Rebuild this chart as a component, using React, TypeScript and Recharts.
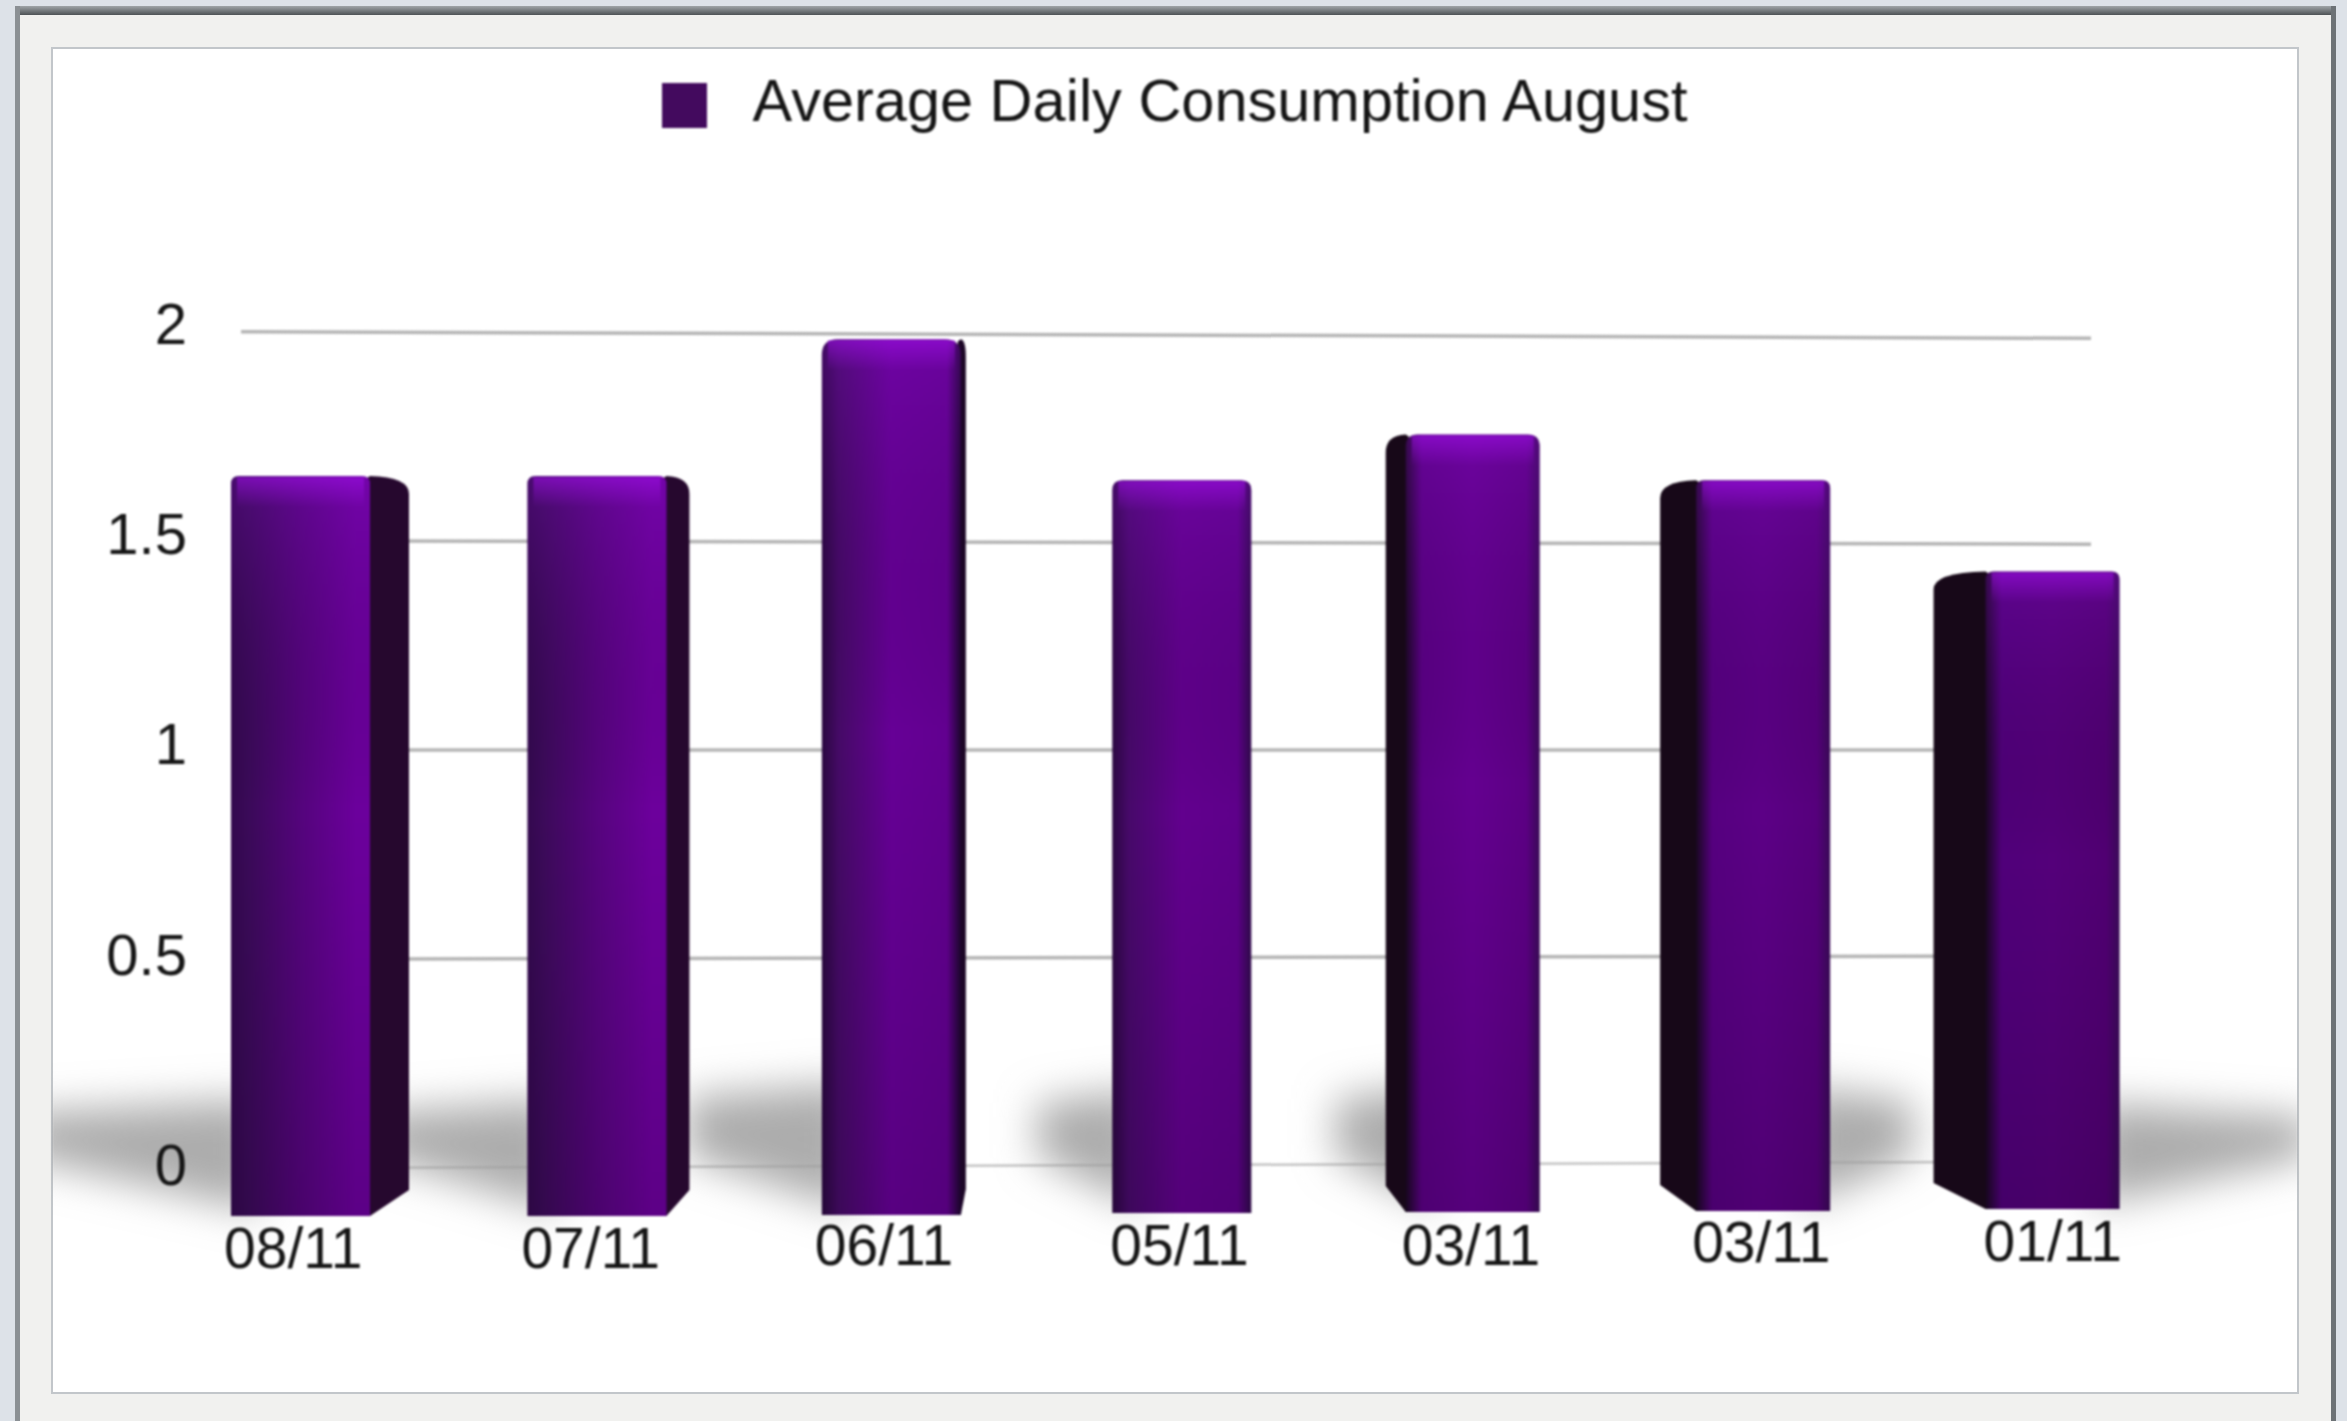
import { BarChart, Bar, XAxis, YAxis, CartesianGrid, Legend } from "recharts";

const categories = ["08/11", "07/11", "06/11", "05/11", "03/11", "03/11", "01/11"];
const consumption = [1.66, 1.66, 1.99, 1.65, 1.76, 1.65, 1.43];
const yTicks = [0, 0.5, 1, 1.5, 2];
const seriesName = "Average Daily Consumption August";

const data = categories.map((c, i) => ({ key: i, month: c, value: consumption[i] }));

// the picture is a 3D photo-ish chart, each bar sees a different amount of its side
const sideDepth = [39, 23, 5, 0, -20, -36, -52];
const nudge = [0, 4, 6, 4, 5, 3, 0];
const baseDrop = [51, 51, 50, 48, 47, 46, 44];
const cornerRadius = [8, 8, 16, 10, 12, 8, 8];
const shadowReach = [-210, -150, -135, -75, -70, 80, 185];
const shadowTop = [66, 66, 82, 76, 80, 78, 62];
const labelDrop = [9, 9, 6, 6, 6, 3, 2];
const labelShift = [-4, -3, -4, 1, -1, -1, 1];
const yLabelLift = [0, -3, -6, -9, -11];

// [left edge, left, middle, right, right edge]
const faceStops = [
  ["#33094e", "#3a0a58", "#54047c", "#6b009c", "#6b009c"],
  ["#33094e", "#3c0a5a", "#56047e", "#6c009c", "#6c009c"],
  ["#2a0840", "#450a66", "#660096", "#620090", "#1e0630"],
  ["#2c0842", "#47096a", "#62008e", "#5e008a", "#300a4c"],
  ["#1a0822", "#5a0084", "#640090", "#5c0084", "#3a0a58"],
  ["#1a0822", "#560080", "#5c0086", "#56007c", "#3a0a58"],
  ["#1a0822", "#50007a", "#54007a", "#500072", "#3a0a58"],
];
const sideColor = ["#26082e", "#26082e", "#1c0626", "#26082e", "#170818", "#170818", "#170818"];

function FrontBar(props: any) {
  const { x, y, width, height, index } = props;
  const w = width - (index > 3 ? 5 : 0);
  const fx = x + nudge[index];
  const drop = baseDrop[index];
  const bottom = y + height + drop;
  const d = sideDepth[index];
  const edge = d >= 0 ? fx + w : fx;
  const seam = edge - Math.sign(d) * 3;
  const r = cornerRadius[index];
  const side = d === 0 ? null : (
    <path
      d={`M${seam} ${y + 2} L${edge} ${y} Q${edge + d} ${y + 1} ${edge + d} ${y + 18} L${edge + d} ${bottom - 26} L${edge} ${bottom} L${seam} ${bottom}Z`}
      fill={sideColor[index]}
    />
  );
  const face = `M${fx} ${y + r} Q${fx} ${y} ${fx + r} ${y} L${fx + w - r} ${y} Q${fx + w} ${y} ${fx + w} ${y + r} L${fx + w} ${bottom} L${fx} ${bottom}Z`;
  return (
    <g>
      {side}
      <path d={face} fill={`url(#face${index})`} />
      <path d={face} fill="url(#faceShade)" />
      <rect x={fx + 6} y={y + 1} width={w - 12} height={30} fill="url(#topGlow)" />
    </g>
  );
}

function CastShadow(props: any) {
  const { x, y, width, height, index } = props;
  const zero = y + height;
  const reach = shadowReach[index];
  const near = reach < 0 ? x + nudge[index] + 30 : x + width - 30;
  const far = reach < 0 ? x + nudge[index] + reach : x + width + reach;
  const pts = [
    [near, zero - shadowTop[index]],
    [far, zero - shadowTop[index] + 14],
    [far, zero - 8],
    [near, zero + baseDrop[index] - 4],
  ];
  return (
    <g clipPath="url(#panelClip)">
      <polygon points={pts.map(p => p.join(",")).join(" ")} fill="#9e9e9e" fillOpacity={0.85} filter="url(#soft)" />
    </g>
  );
}

function GridLine(props: any) {
  const { y1 } = props;
  // lines lean in slightly towards the right, as in the photo
  const off = (y1 - 750) * 0.008;
  const faint = y1 > 1100;
  return (
    <line
      x1={241}
      x2={2091}
      y1={y1 + off}
      y2={y1 - off}
      stroke={faint ? "#c4c4c4" : "#b4b4b4"}
      strokeWidth={faint ? 2.5 : 3.5}
    />
  );
}

function XTick({ x, y, index, payload }: any) {
  return (
    <text x={x + labelShift[index] + nudge[index] - 3} y={y + labelDrop[index] + 86} textAnchor="middle" fontSize={57} fill="#151515" fontFamily="Liberation Sans">
      {payload.value}
    </text>
  );
}

function YTick({ y, index, payload }: any) {
  return (
    <text x={187} y={y + 20 + yLabelLift[index]} textAnchor="end" fontSize={58} fill="#151515" fontFamily="Liberation Sans">
      {payload.value}
    </text>
  );
}

export default function App() {
  return (
    <div style={{ position: "absolute", left: 0, top: 0, width: 2347, height: 1421, overflow: "hidden", background: "#f1f1ef" }}>
      <div style={{ position: "absolute", left: 0, top: 0, width: 2347, height: 6, background: "#dde2e8" }} />
      <div style={{ position: "absolute", left: 0, top: 0, width: 15, height: 1421, background: "#dde2e8" }} />
      <div style={{ position: "absolute", right: 0, top: 0, width: 12, height: 1421, background: "#dde2e8" }} />
      <div style={{ position: "absolute", left: 15, top: 6, width: 2317, height: 9, background: "linear-gradient(#a0a5a8,#4e5356)" }} />
      <div style={{ position: "absolute", left: 15, top: 6, width: 5, height: 1415, background: "#8b9094" }} />
      <div style={{ position: "absolute", left: 2331, top: 6, width: 5, height: 1415, background: "#6d7276" }} />
      <div style={{ position: "absolute", left: 51, top: 47, width: 2248, height: 1347, background: "#fff", border: "2px solid #c2c6ca", boxSizing: "border-box" }} />
      <div style={{ position: "absolute", left: 0, top: 0, filter: "blur(0.9px)" }}>
        <BarChart
          width={2347}
          height={1421}
          data={data}
          barCategoryGap={0}
          margin={{ top: 275, right: 146, bottom: 156, left: 0 }}
        >
          <defs>
            <filter id="soft" x="-80%" y="-100%" width="260%" height="300%">
              <feGaussianBlur stdDeviation="20" />
            </filter>
            <clipPath id="panelClip">
              <rect x={52} y={48} width={2246} height={1345} />
            </clipPath>
            {faceStops.map((s, i) => (
              <linearGradient key={i} id={`face${i}`} x1="0" y1="0" x2="1" y2="0">
                <stop offset="0" stopColor={s[0]} />
                <stop offset="0.12" stopColor={s[1]} />
                <stop offset="0.5" stopColor={s[2]} />
                <stop offset="0.9" stopColor={s[3]} />
                <stop offset="1" stopColor={s[4]} />
              </linearGradient>
            ))}
            <linearGradient id="faceShade" x1="0" y1="0" x2="0" y2="1">
              <stop offset="0" stopColor="#8a10d0" stopOpacity={0.25} />
              <stop offset="0.45" stopColor="#000" stopOpacity={0} />
              <stop offset="1" stopColor="#000" stopOpacity={0.14} />
            </linearGradient>
            <linearGradient id="topGlow" x1="0" y1="0" x2="0" y2="1">
              <stop offset="0" stopColor="#a010e8" stopOpacity={0.55} />
              <stop offset="1" stopColor="#a010e8" stopOpacity={0} />
            </linearGradient>
          </defs>
          <CartesianGrid vertical={false} horizontal={GridLine} />
          <XAxis dataKey="key" axisLine={false} tickLine={false} height={100} tick={(p: any) => <XTick {...p} payload={{ value: categories[p.payload.value] }} />} interval={0} />
          <YAxis domain={[0, 2]} ticks={yTicks} width={154} axisLine={false} tickLine={false} tick={YTick} interval={0} />
          <Legend
            verticalAlign="top"
            iconType="square"
            iconSize={45}
            wrapperStyle={{ top: 74, left: 6, width: 2347, height: 60, fontSize: 59.5, fontFamily: "Liberation Sans", lineHeight: "54px" }}
            formatter={(v: string) => <span style={{ color: "#151515", marginLeft: 42 }}>{v}</span>}
          />
          <Bar
            dataKey="value"
            name={seriesName}
            fill="#430a5e"
            barSize={139}
            isAnimationActive={false}
            background={CastShadow}
            shape={FrontBar}
          />
        </BarChart>
      </div>
    </div>
  );
}
